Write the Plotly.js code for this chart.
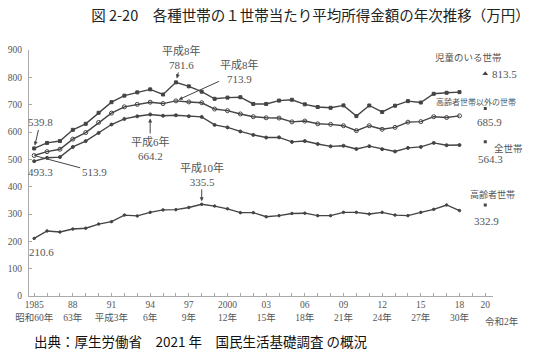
<!DOCTYPE html>
<html><head><meta charset="utf-8">
<script src="https://cdn.plot.ly/plotly-3.0.1.min.js"></script>
<style>body{margin:0;background:#fff}#c{width:540px;height:363px}</style>
</head><body><div id="c"></div>
<script>
const years = [];
for (let y = 1985; y <= 2018; y++) years.push(y);
const childHH = [539.8,560,566.9,608,630,670.4,709.1,733,745,756,737.2,
  781.6,767.1,747.4,721.4,725.8,727.2,702.7,702.6,714.9,718.0,
  701.2,691.4,688.5,697.3,658.1,697.0,673.2,696.3,712.9,707.8,739.8,743.6,745.9];
const nonElderlyHH = [513.9,528,537,574,598,635,669,692,701,709,704,
  713.9,710,707,684,678,666,656,652,651,637,
  640,630,628,623,605,623,610,617,636,638,656,653,659];
const allHH = [493.3,505.6,508.2,545.3,566.7,596.6,627.4,647.8,657.5,664.2,659.6,
  661.2,657.7,655.2,626.0,616.9,602.0,589.3,579.7,580.4,563.8,
  566.8,556.2,547.5,549.6,538.0,548.2,537.2,528.9,541.9,545.4,560.2,551.6,552.3];
const elderlyHH = [210.6,238,234,245,248,263,272,296,293,306,315,
  316,324,335.5,329,319,305,305,290,294,302,
  303,294,294,306,306,300,306,296,294,306,317,333,312.6];
const year2020 = 2020;
const values2020 = [813.5, 685.9, 564.3, 332.9];
const tickYears = [1985,1988,1991,1994,1997,2000,2003,2006,2009,2012,2015,2018,2020];
const tickLabels = ['1985<br>昭和60年','88<br>63年','91<br>平成3年','94<br>6年','97<br>9年','2000<br>12年',
  '03<br>15年','06<br>18年','09<br>21年','12<br>24年','15<br>27年','18<br>30年','20<br> '];

const lc = '#444';
const serif = '"Liberation Serif", "DejaVu Serif", "Noto Sans CJK JP", serif';
const jp = '"Noto Sans CJK JP", sans-serif';
function line(y, sym, size){
  return {x: years, y: y, type:'scatter', mode:'lines+markers',
    line:{color:lc, width:1.4}, marker:{symbol:sym, size:size, color:lc,
    line:{color:lc, width:1}}, hoverinfo:'skip', showlegend:false};
}
const traces = [
  line(childHH,'square',3),
  line(nonElderlyHH,'circle-open',4),
  line(allHH,'circle',3),
  line(elderlyHH,'circle',2.5),
  {x:[year2020], y:[values2020[0]], type:'scatter', mode:'markers', marker:{symbol:'triangle-up', size:5, color:lc}, showlegend:false},
  {x:[year2020,year2020,year2020], y:values2020.slice(1), type:'scatter', mode:'markers', marker:{symbol:'square', size:3, color:lc}, showlegend:false}
];

const g = '#555';
function ann(x, y, text, o){
  return Object.assign({x:x, y:y, xref:'x', yref:'y', text:text, showarrow:false,
    font:{family:serif, size:11, color:g}}, o||{});
}
const annotations = [
  ann(1985, 539.8, '539.8', {showarrow:true, ax:6, ay:-26, arrowhead:2, arrowsize:0.8, arrowwidth:1, arrowcolor:lc, standoff:3}),
  ann(1985.5, 493.3, '493.3', {yshift:-11}),
  ann(1985, 513.9, '513.9', {showarrow:true, ax:60, ay:16, arrowhead:0, arrowwidth:1, arrowcolor:lc, standoff:2}),
  ann(1994, 664.2, '平成6年<br>664.2', {showarrow:true, ax:0, ay:34, arrowhead:2, arrowsize:0.8, arrowwidth:1, arrowcolor:lc, standoff:4}),
  ann(1996, 781.6, '平成8年<br>781.6', {showarrow:true, ax:6, ay:-25, arrowhead:2, arrowsize:0.8, arrowwidth:1, arrowcolor:lc, standoff:4}),
  ann(1996, 713.9, '平成8年<br>713.9', {showarrow:true, ax:64, ay:-29, arrowhead:2, arrowsize:0.8, arrowwidth:1, arrowcolor:lc, standoff:3}),
  ann(1998, 335.5, '平成10年<br>335.5', {showarrow:true, ax:0, ay:-30, arrowhead:2, arrowsize:0.8, arrowwidth:1, arrowcolor:lc, standoff:3}),
  ann(1985.6, 210.6, '210.6', {yshift:-14}),
  ann(year2020, values2020[0], '児童のいる世帯', {xshift:-17, yshift:17, font:{family:jp, size:9.5, color:g}}),
  ann(year2020, values2020[0], '813.5', {xanchor:'left', xshift:5}),
  ann(year2020, values2020[1], '高齢者世帯以外の世帯', {xshift:-9, yshift:7, font:{family:jp, size:8, color:g}}),
  ann(year2020, values2020[1], '685.9', {xshift:4, yshift:-13}),
  ann(year2020, values2020[2], '全世帯', {xanchor:'left', xshift:7, yshift:-6, font:{family:jp, size:9.5, color:g}}),
  ann(year2020, values2020[2], '564.3', {xshift:5, yshift:-17}),
  ann(year2020, values2020[3], '高齢者世帯', {xshift:7, yshift:11, font:{family:jp, size:9, color:g}}),
  ann(year2020, values2020[3], '332.9', {xshift:1, yshift:-16}),
  {x:year2020, y:0, xref:'x', yref:'y', text:'令和2年', showarrow:false, xshift:17, yshift:-25, font:{family:serif, size:9.5, color:g}},
  {x:0.371, y:-0.182, xref:'paper', yref:'paper', yanchor:'middle', text:'出典：厚生労働省　2021 年　国民生活基礎調査 の概況', showarrow:false, font:{family:jp, size:13.5, color:'#111'}}
];

const layout = {
  width:540, height:363,
  margin:{l:29, r:47, t:50, b:67},
  paper_bgcolor:'#fff', plot_bgcolor:'#fff',
  title:{text:'図 2-20　各種世帯の１世帯当たり平均所得金額の年次推移（万円）', x:0.575, xref:'container', xanchor:'center', y:0.955, yref:'container', yanchor:'middle', font:{family:jp, size:14.5, color:'#222'}},
  xaxis:{range:[1984.6, 2020.6], tickmode:'array', tickvals:tickYears, ticktext:tickLabels,
    showgrid:false, zeroline:false, showline:true, linecolor:'#aaa', linewidth:1,
    ticks:'inside', ticklen:3, tickcolor:'#aaa',
    minor:{tickmode:'linear', tick0:1985, dtick:1, ticks:'inside', ticklen:3, tickcolor:'#aaa'},
    tickfont:{family:serif, size:9.5, color:g}},
  yaxis:{range:[0, 900], tickvals:[0,100,200,300,400,500,600,700,800,900], showgrid:false, zeroline:false,
    showline:true, linecolor:'#aaa', linewidth:1, ticks:'inside', ticklen:3, tickcolor:'#aaa',
    ticklabelstandoff:4, tickfont:{family:serif, size:9.5, color:g}},
  annotations: annotations
};
Plotly.newPlot('c', traces, layout, {staticPlot:true, displayModeBar:false});
</script></body></html>
